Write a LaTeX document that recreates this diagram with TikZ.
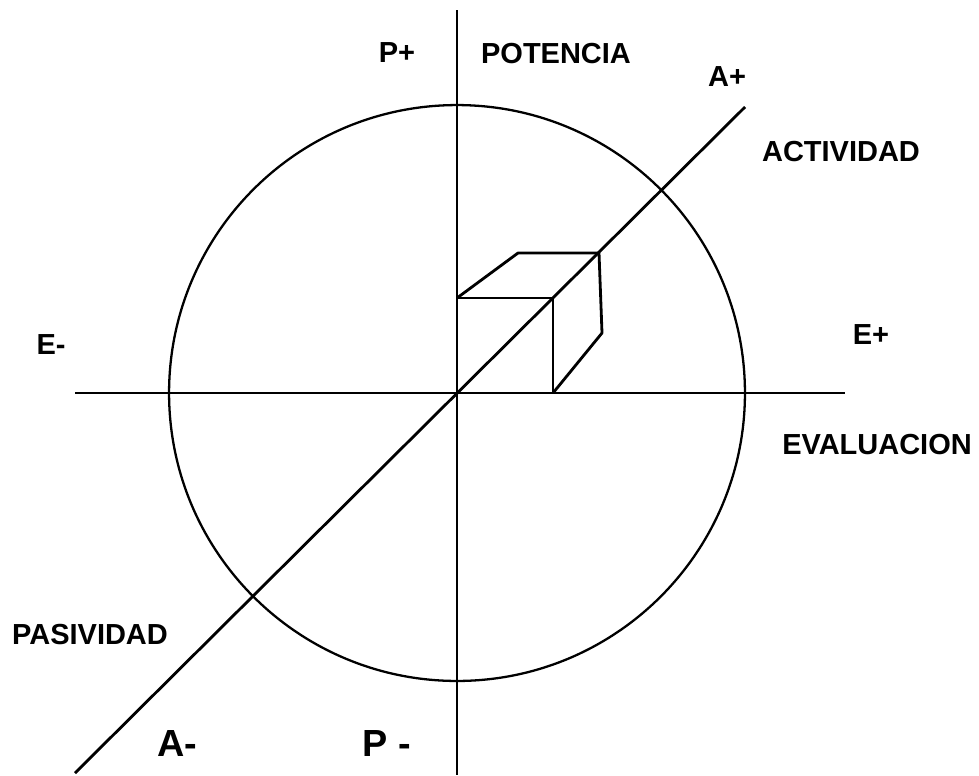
\documentclass[tikz,border=0pt]{standalone}
\usepackage{fontspec}
\setsansfont{Liberation Sans}
\usepackage{tikz}
\usetikzlibrary{positioning}

\begin{document}
\begin{tikzpicture}[
    x=0.02cm, y=-0.02cm,
    axis/.style={line width=1.6pt},
    ring/.style={line width=1.3pt},
    cube/.style={line width=1.6pt, line join=round},
    lbl/.style={font=\sffamily\bfseries\fontsize{16.5}{18}\selectfont, inner sep=0pt},
    biglbl/.style={font=\sffamily\bfseries\fontsize{21.5}{24}\selectfont, inner sep=0pt},
]
\useasboundingbox (0,0) rectangle (979,775);

% === Axes: E (horizontal), P (vertical), A (diagonal) ===
\coordinate (o) at (457,393);
\coordinate (ptop) at (457,10);
\coordinate (pbot) at (457,775);
\coordinate (eleft) at (75,393);
\coordinate (eright) at (845,393);
\coordinate (abot) at (75,773);
\coordinate (atop) at (745,107);
\draw[axis] (eleft) -- (eright);
\draw[axis] (ptop) -- (pbot);
\draw[axis] (abot) -- (atop);
\draw[ring] (o) circle[radius=5.76cm];

% === Cube in the first quadrant ===
\draw[cube] (457,298) -- (553,298) -- (553,393);
\draw[cube] (457,298) -- (518,253) -- (599,253) -- (602,333) -- (553,393);

% === Labels ===
\node[lbl] (pplus) at (397,53) {P+};
\node[lbl] (potencia) at (556,54) {POTENCIA};
\node[lbl] (aplus) at (727,77) {A+};
\node[lbl] (actividad) at (841,152) {ACTIVIDAD};
\node[lbl] (eminus) at (51,345) {E-};
\node[lbl] (eplus) at (871,335) {E+};
\node[lbl] (evaluacion) at (877,445) {EVALUACION};
\node[lbl] (pasividad) at (90,635) {PASIVIDAD};
\node[biglbl] (aminus) at (177,743) {A-};
\node[biglbl] (pminus) at (387,743) {P -};

\end{tikzpicture}
\end{document}
